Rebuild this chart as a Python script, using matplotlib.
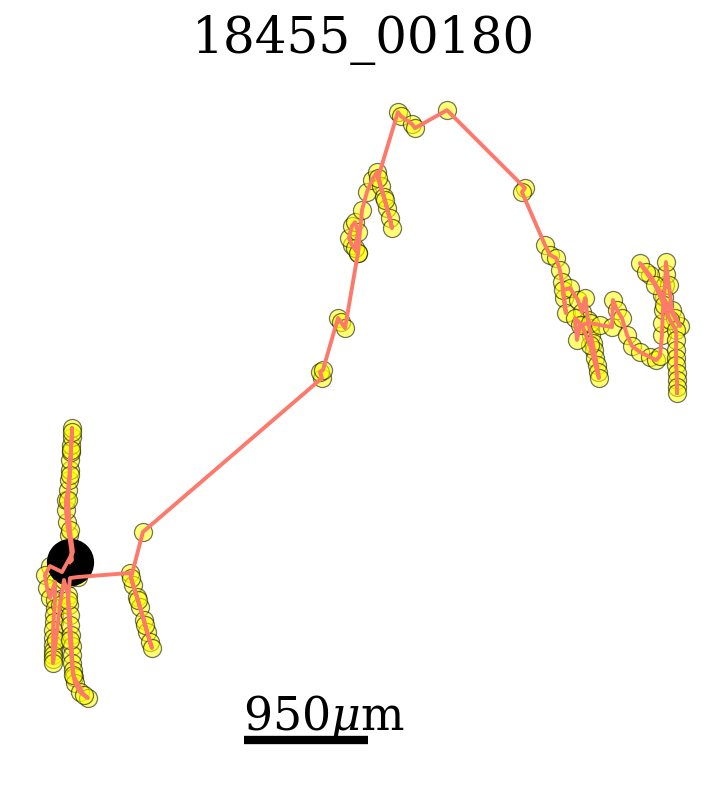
import matplotlib
matplotlib.use("Agg")
import matplotlib.pyplot as plt

plt.rcParams['font.family'] = ['DejaVu Serif']
plt.rcParams['mathtext.fontset'] = 'dejavuserif'

title = "18455_00180"
scale_um = 950
scale_label = "950$\\mu$m"

# track positions in micrometres (origin at start point)
x_um = [0, 15, 8, -8, -23, -31, -31, -15, -8, 0, 0, 8, 8, 15, 15, 15, 8, 0, -15, 0, 23,
        -61, -153, -192, -176, -153, -115, -115, -118, -123, -126, -130, -128, -130, -131, -130, -128, -130,
        -107, -77, -46,
        -15, -8, 0, 4, 8, 12, 15, 19, 23, 30, 38, 77, 138, 107, 23, 0, -15, 0, 61,
        460, 483, 513, 536, 567, 590, 613, 628, 575, 521, 467, 559,
        1930, 1915, 1938, 2053, 2076, 2107, 2206, 2160, 2137, 2160, 2183, 2206, 2183, 2206,
        2237, 2275, 2313, 2352, 2382, 2405, 2428, 2451, 2467, 2413, 2359,
        2512, 2535, 2620, 2643, 2888, 3485, 3462, 3639, 3677, 3723,
        3753, 3769, 3784, 3799, 3776, 3830, 3891, 3922, 3945,
        3968, 3980, 3991, 4003, 4014, 4025, 4037, 4045, 4052,
        3983, 3922, 3868, 3884, 3907, 3983, 4060, 4152, 4159, 4190, 4228, 4267, 4305, 4366,
        4443, 4489, 4519, 4535, 4538, 4542, 4550, 4558, 4562, 4565, 4588, 4611, 4673, 4634,
        4535, 4443, 4366, 4412, 4481, 4550, 4596,
        4642, 4645, 4642, 4644, 4642, 4648, 4650, 4650, 4650]
y_um = [0, 15, 107, 207, 306, 398, 475, 552, 628, 705, 781, 843, 896, 958, 1026, 996, 858, 666, 475, 245, 77,
        -77, -31, -100, -199, -276, -153, -291, -350, -406, -460, -521, -580, -636, -680, -712, -745, -774,
        -597, -329, -138,
        -253, -330, -406, -480, -559, -640, -712, -770, -827, -880, -927, -996, -1042, -1019, -866, -597, -291, -123, -115,
        -84, -176, -268, -345, -444, -536, -613, -659, -483, -291, -123, 230,
        1409, 1455, 1471, 1869, 1838, 1792, 2367, 2428, 2482, 2574, 2604, 2528, 2405, 2367,
        2696, 2834, 2926, 2987, 2880, 2796, 2712, 2635, 2558, 2773, 2941,
        3447, 3416, 3355, 3324, 3462, 2865, 2834, 2428, 2352, 2329,
        2237, 2145, 2022, 1907, 2084, 2099, 2007, 1915, 2022,
        1854, 1790, 1739, 1680, 1624, 1565, 1509, 1455, 1409,
        1662, 1815, 1869, 1701, 1815, 1831, 1815, 1800, 2007, 1930, 1869, 1739, 1655, 1609,
        1570, 1547, 1578, 1739, 1830, 1930, 2030, 2122, 2210, 2298, 2122, 1930, 1808, 1869,
        2045, 2198, 2290, 2221, 2122, 1969, 1854,
        1777, 1700, 1624, 1565, 1509, 1450, 1394, 1340, 1295]

W, H, DPI = 727, 786, 100
fig = plt.figure(figsize=(W / DPI, H / DPI), dpi=DPI)
ax = fig.add_axes([0, 0, 1, 711 / 786])
ax.set_xlim(-536, 5033)
ax.set_ylim(-1716, 3731)
ax.axis('off')

ax.plot(x_um, y_um, linestyle='none', marker='o', markersize=13,
        markerfacecolor='#ffff00', markeredgecolor='black', markeredgewidth=0.9,
        alpha=0.55, zorder=2)
ax.plot(x_um[0], y_um[0], marker='o', markersize=33, color='black', zorder=3)
ax.plot(x_um, y_um, color='#fd796b', linewidth=2.8, zorder=4)

# scale bar
bx0, by = 1333, -1364
ax.plot([bx0, bx0 + scale_um], [by, by], color='black', linewidth=6,
        solid_capstyle='butt', zorder=5)
ax.text(bx0 - 10, -1287, scale_label, fontsize=33, ha='left', va='baseline')

fig.text(0.5, 1 - 53 / 786, title, fontsize=36, ha='center', va='baseline')

fig.savefig('out.png', dpi=DPI)
